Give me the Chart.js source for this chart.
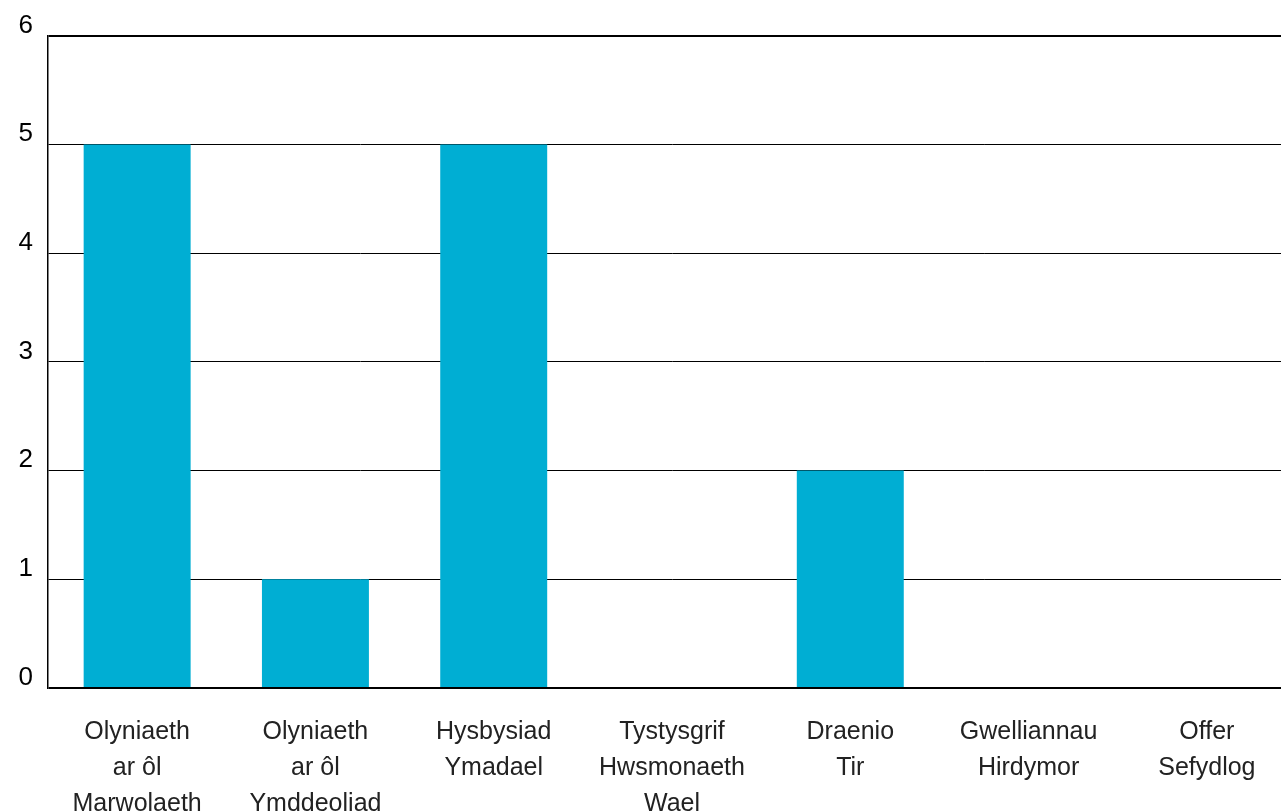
<!DOCTYPE html>
<html>
<head>
<meta charset="utf-8">
<script src="https://cdn.jsdelivr.net/npm/chart.js@4"></script>
<style>
  html, body { margin: 0; padding: 0; background: #fff; overflow: hidden; }
  #wrap { width: 1296px; height: 812px; }
</style>
</head>
<body>
<div id="wrap"><canvas id="chart" width="1296" height="812"></canvas></div>
<script>
const categories = [
  ['Olyniaeth', 'ar ôl', 'Marwolaeth'],
  ['Olyniaeth', 'ar ôl', 'Ymddeoliad'],
  ['Hysbysiad', 'Ymadael'],
  ['Tystysgrif', 'Hwsmonaeth', 'Wael'],
  ['Draenio', 'Tir'],
  ['Gwelliannau', 'Hirdymor'],
  ['Offer', 'Sefydlog']
]
const counts = [5, 1, 5, 0, 2, 0, 0]
const yMax = 6

const barColour = '#00AED3'

const config = {
  type: 'bar',
  data: {
    labels: categories,
    datasets: [
      {
        data: counts,
        backgroundColor: barColour,
        borderWidth: 0,
        categoryPercentage: 1,
        barPercentage: 0.6
      }
    ]
  },
  options: {
    responsive: false,
    animation: false,
    layout: {
      padding: { left: 0, right: 0, top: 27, bottom: 0 }
    },
    plugins: {
      legend: { display: false },
      tooltip: { enabled: false }
    },
    scales: {
      x: {
        grid: { display: false, drawTicks: false },
        border: { display: false },
        ticks: {
          color: '#222',
          padding: 26,
          maxRotation: 0,
          autoSkip: false,
          font: { family: 'Liberation Sans, Arial, sans-serif', size: 25, lineHeight: 1.44 }
        },
        afterFit: scale => { scale.height = 124 }
      },
      y: {
        min: 0,
        max: yMax,
        grid: {
          color: '#000',
          drawTicks: false,
          lineWidth: ctx => (ctx.tick && (ctx.tick.value === 0 || ctx.tick.value === yMax)) ? 2 : 1
        },
        border: { display: true, color: '#000', width: 1.5 },
        ticks: {
          stepSize: 1,
          color: '#000',
          padding: 15,
          // blank second line lifts the number above its gridline
          callback: v => [String(v), ''],
          font: { family: 'Liberation Sans, Arial, sans-serif', size: 26, lineHeight: 0.8 }
        },
        afterFit: scale => { scale.width = 48 }
      }
    }
  }
}

const myChart = new Chart(document.getElementById('chart'), config)
</script>
</body>
</html>
